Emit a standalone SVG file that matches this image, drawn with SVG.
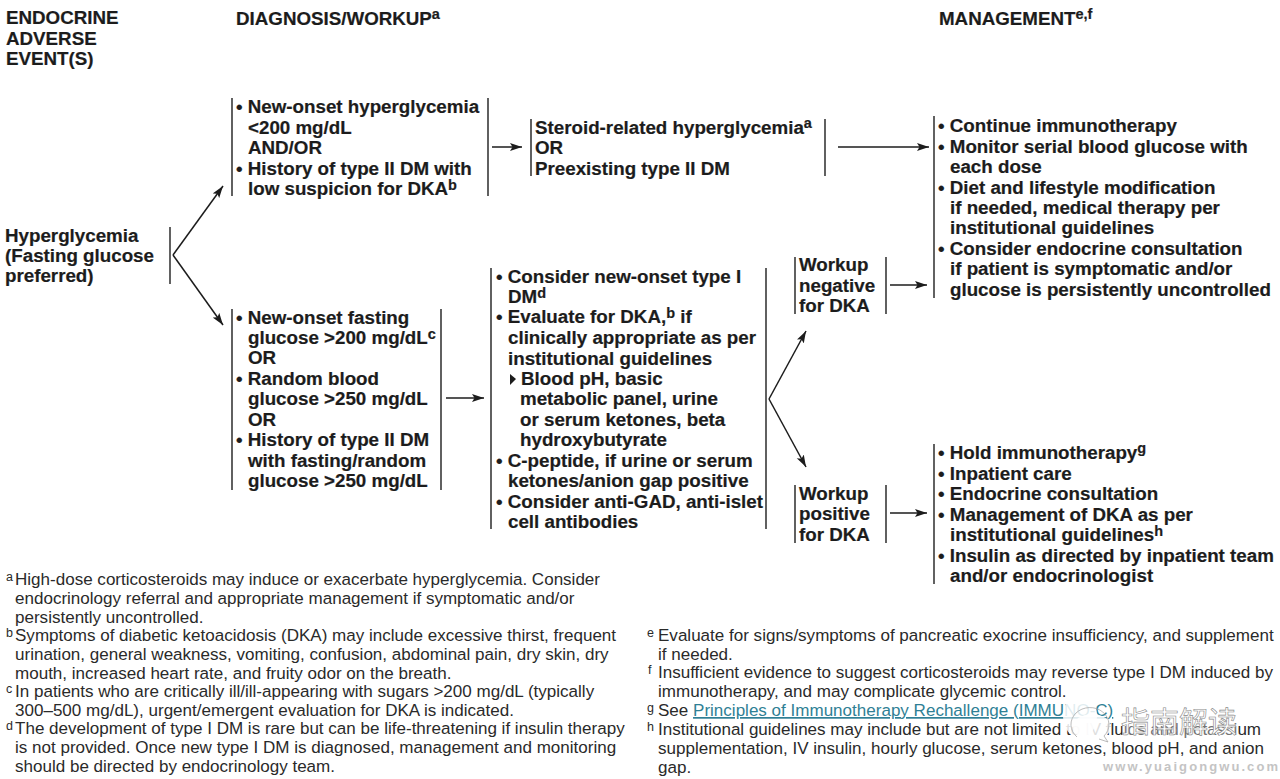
<svg xmlns="http://www.w3.org/2000/svg" width="1280" height="779" viewBox="0 0 1280 779">
<style>
text{font-family:"Liberation Sans",Arial,sans-serif;fill:#1c1c1c}
.b{font-size:18.75px;font-weight:700;stroke:#1c1c1c;stroke-width:.2px}
.f{font-size:17.05px;fill:#2a2a2a}
.s{font-size:12.5px}
.bs{font-size:14.5px;font-weight:700}
.bar{stroke:#3a3a3a;stroke-width:1.6;fill:none}
.c{stroke:#1c1c1c;stroke-width:1.5;fill:none;marker-end:url(#a)}
.wm{font-family:"Noto Sans CJK SC","Liberation Sans",sans-serif;font-size:29px;fill:#fff;stroke:#888;stroke-width:.6}
</style>
<defs><marker id="a" markerUnits="userSpaceOnUse" markerWidth="13" markerHeight="9" refX="12" refY="4.5" orient="auto"><path d="M0 .5L12 4.5L0 8.5L2.5 4.5Z" fill="#1c1c1c"/></marker></defs>
<rect width="1280" height="779" fill="#fff"/>
<g id="headers">
<text class="b" x="6" y="24">ENDOCRINE</text><text class="b" x="6" y="45">ADVERSE</text><text class="b" x="6" y="65">EVENT(S)</text>
<text class="b" x="236" y="25">DIAGNOSIS/WORKUP<tspan class="bs" dy="-6">a</tspan></text>
<text class="b" x="939" y="25">MANAGEMENT<tspan class="bs" dy="-6">e,f</tspan></text>
</g>
<g id="connectors">
<path class="c" d="M173 255L223 186"/><path class="c" d="M173 255L223 325"/>
<path class="c" d="M492 147H522"/><path class="c" d="M838 147H929"/>
<path class="c" d="M446 398H484"/><path class="c" d="M769 399L806 331"/><path class="c" d="M769 399L806 467"/>
<path class="c" d="M890 285H927"/><path class="c" d="M890 513H927"/>
</g>
<g id="n-hyperglycemia">
<path class="bar" d="M170 227V284"/>
<text class="b" x="5" y="242">Hyperglycemia</text><text class="b" x="5" y="262">(Fasting glucose</text><text class="b" x="5" y="282">preferred)</text>
</g>
<g id="n-mild">
<path class="bar" d="M232 98V196M488 98V196"/>
<text class="b" x="236" y="113">• New-onset hyperglycemia</text><text class="b" x="248" y="134">&lt;200 mg/dL</text><text class="b" x="248" y="154">AND/OR</text>
<text class="b" x="236" y="175">• History of type II DM with</text><text class="b" x="248" y="195">low suspicion for DKA<tspan class="bs" dy="-5">b</tspan></text>
</g>
<g id="n-steroid">
<path class="bar" d="M531 119V176M825 119V176"/>
<text class="b" x="535" y="134">Steroid-related hyperglycemia<tspan class="bs" dy="-6">a</tspan></text><text class="b" x="535" y="154">OR</text><text class="b" x="535" y="175">Preexisting type II DM</text>
</g>
<g id="n-severe">
<path class="bar" d="M232 309V490M441 309V490"/>
<text class="b" x="236" y="324">• New-onset fasting</text><text class="b" x="248" y="344">glucose &gt;200 mg/dL<tspan class="bs" dy="-5">c</tspan></text><text class="b" x="248" y="364">OR</text>
<text class="b" x="236" y="385">• Random blood</text><text class="b" x="248" y="405">glucose &gt;250 mg/dL</text><text class="b" x="248" y="426">OR</text>
<text class="b" x="236" y="446">• History of type II DM</text><text class="b" x="248" y="467">with fasting/random</text><text class="b" x="248" y="487">glucose &gt;250 mg/dL</text>
</g>
<g id="n-workup">
<path class="bar" d="M491 268V529M766 268V529"/>
<text class="b" x="496" y="283">• Consider new-onset type I</text><text class="b" x="508" y="303">DM<tspan class="bs" dy="-5">d</tspan></text>
<text class="b" x="496" y="323">• Evaluate for DKA,<tspan class="bs" dy="-5">b</tspan><tspan dy="5"> if</tspan></text><text class="b" x="508" y="344">clinically appropriate as per</text><text class="b" x="508" y="365">institutional guidelines</text>
<path d="M510 374L516 379L510 385Z" fill="#1c1c1c"/>
<text class="b" x="521" y="385">Blood pH, basic</text><text class="b" x="520" y="405">metabolic panel, urine</text><text class="b" x="520" y="426">or serum ketones, beta</text><text class="b" x="520" y="446">hydroxybutyrate</text>
<text class="b" x="496" y="467">• C-peptide, if urine or serum</text><text class="b" x="508" y="487">ketones/anion gap positive</text>
<text class="b" x="496" y="508">• Consider anti-GAD, anti-islet</text><text class="b" x="508" y="528">cell antibodies</text>
</g>
<g id="n-negative">
<path class="bar" d="M795 257V314M886 257V314"/>
<text class="b" x="799" y="271">Workup</text><text class="b" x="799" y="292">negative</text><text class="b" x="799" y="312">for DKA</text>
</g>
<g id="n-positive">
<path class="bar" d="M795 485V543M886 485V543"/>
<text class="b" x="799" y="500">Workup</text><text class="b" x="799" y="520">positive</text><text class="b" x="799" y="541">for DKA</text>
</g>
<g id="n-continue">
<path class="bar" d="M934 116V298"/>
<text class="b" x="938" y="132">• Continue immunotherapy</text>
<text class="b" x="938" y="153">• Monitor serial blood glucose with</text><text class="b" x="950" y="173">each dose</text>
<text class="b" x="938" y="194">• Diet and lifestyle modification</text><text class="b" x="950" y="214">if needed, medical therapy per</text><text class="b" x="950" y="234">institutional guidelines</text>
<text class="b" x="938" y="255">• Consider endocrine consultation</text><text class="b" x="950" y="275">if patient is symptomatic and/or</text><text class="b" x="950" y="296">glucose is persistently uncontrolled</text>
</g>
<g id="n-hold">
<path class="bar" d="M934 444V584"/>
<text class="b" x="938" y="459">• Hold immunotherapy<tspan class="bs" dy="-6">g</tspan></text>
<text class="b" x="938" y="480">• Inpatient care</text>
<text class="b" x="938" y="500">• Endocrine consultation</text>
<text class="b" x="938" y="521">• Management of DKA as per</text><text class="b" x="950" y="541">institutional guidelines<tspan class="bs" dy="-5">h</tspan></text>
<text class="b" x="938" y="562">• Insulin as directed by inpatient team</text><text class="b" x="950" y="582">and/or endocrinologist</text>
</g>
<g id="footnotes-left">
<text class="f s" x="6" y="581">a</text><text class="f" x="15" y="585">High-dose corticosteroids may induce or exacerbate hyperglycemia. Consider</text>
<text class="f" x="15" y="604">endocrinology referral and appropriate management if symptomatic and/or</text>
<text class="f" x="15" y="623">persistently uncontrolled.</text>
<text class="f s" x="6" y="637">b</text><text class="f" x="15" y="641">Symptoms of diabetic ketoacidosis (DKA) may include excessive thirst, frequent</text>
<text class="f" x="15" y="660">urination, general weakness, vomiting, confusion, abdominal pain, dry skin, dry</text>
<text class="f" x="15" y="679">mouth, increased heart rate, and fruity odor on the breath.</text>
<text class="f s" x="6" y="693">c</text><text class="f" x="15" y="697">In patients who are critically ill/ill-appearing with sugars &gt;200 mg/dL (typically</text>
<text class="f" x="15" y="716">300–500 mg/dL), urgent/emergent evaluation for DKA is indicated.</text>
<text class="f s" x="6" y="730">d</text><text class="f" x="15" y="734">The development of type I DM is rare but can be life-threatening if insulin therapy</text>
<text class="f" x="15" y="753">is not provided. Once new type I DM is diagnosed, management and monitoring</text>
<text class="f" x="15" y="772">should be directed by endocrinology team.</text>
</g>
<g id="footnotes-right">
<text class="f s" x="647" y="637">e</text><text class="f" x="658" y="641">Evaluate for signs/symptoms of pancreatic exocrine insufficiency, and supplement</text>
<text class="f" x="658" y="660">if needed.</text>
<text class="f s" x="648" y="674">f</text><text class="f" x="658" y="678">Insufficient evidence to suggest corticosteroids may reverse type I DM induced by</text>
<text class="f" x="658" y="697">immunotherapy, and may complicate glycemic control.</text>
<text class="f s" x="647" y="712">g</text><text class="f" x="658" y="716">See <tspan style="fill:#2f7f95;text-decoration:underline">Principles of Immunotherapy Rechallenge (IMMUNO-C)</tspan></text>
<text class="f s" x="647" y="731">h</text><text class="f" x="658" y="735">Institutional guidelines may include but are not limited to IV fluids and potassium</text>
<text class="f" x="658" y="754">supplementation, IV insulin, hourly glucose, serum ketones, blood pH, and anion</text>
<text class="f" x="658" y="773">gap.</text>
</g>
<g id="watermark">
<ellipse cx="1080" cy="716" rx="17" ry="22" fill="#fff" fill-opacity=".85"/>
<ellipse cx="1092" cy="727" rx="19" ry="13" fill="#fff" fill-opacity=".85"/>
<path d="M1077 737A19 17 0 1 1 1104 736L1108 742L1099 739" fill="none" stroke="#aaa" stroke-width=".8"/>
<rect x="1122" y="704" width="116" height="34" fill="#fff" fill-opacity=".35"/>
<text class="wm" x="1121" y="733">指南解读</text>
<text x="1103" y="771" textLength="175" style="font-size:13px;font-weight:700;fill:#c4c4c4">www.yuaigongwu.com</text>
</g>
</svg>
